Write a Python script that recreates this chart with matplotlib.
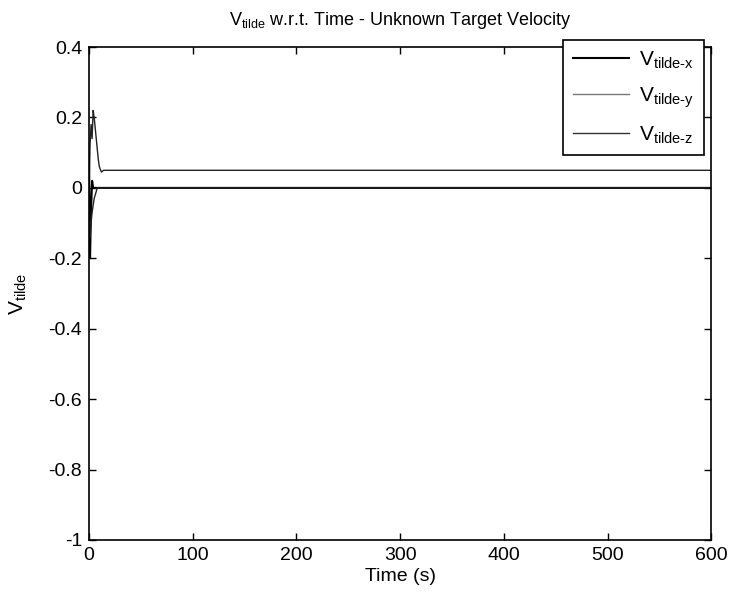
import matplotlib
matplotlib.use("Agg")
import matplotlib.pyplot as plt

plt.rcParams['font.family'] = ['Liberation Sans', 'DejaVu Sans']
plt.rcParams['mathtext.fontset'] = 'custom'
plt.rcParams['mathtext.rm'] = 'Liberation Sans'
plt.rcParams['mathtext.it'] = 'Liberation Sans'

# simulation time samples (s)
time = [0, 1, 2, 3, 4, 5, 6, 7, 8, 9, 10, 12, 14, 600]

# velocity estimation error components
v_tilde_x = [0.10, -0.20, -0.06, 0.02, 0.0, 0.0, 0.0, 0.0, 0.0, 0.0, 0.0, 0.0, 0.0, 0.0]
v_tilde_y = [0.0, 0.12, 0.18, 0.14, 0.22, 0.20, 0.17, 0.14, 0.11, 0.08, 0.06, 0.045, 0.05, 0.05]
v_tilde_z = [0.0, -0.14, -0.10, -0.07, -0.05, -0.03, -0.02, -0.01, 0.0, 0.0, 0.0, 0.0, 0.0, 0.0]

x_ticks = [0, 100, 200, 300, 400, 500, 600]
y_ticks = [-1, -0.8, -0.6, -0.4, -0.2, 0, 0.2, 0.4]
y_tick_labels = ['-1', '-0.8', '-0.6', '-0.4', '-0.2', '0', '0.2', '0.4']


def main():
    fig = plt.figure(figsize=(7.33, 5.96), dpi=100)
    ax = fig.add_axes([0.1214, 0.094, 0.849, 0.827])

    ax.plot(time, v_tilde_x, color='black', lw=1.5, label=r'V$_{\mathregular{tilde\text{-}x}}$')
    ax.plot(time, v_tilde_y, color='#222222', lw=1.0, label=r'V$_{\mathregular{tilde\text{-}y}}$')
    ax.plot(time, v_tilde_z, color='#222222', lw=1.0, label=r'V$_{\mathregular{tilde\text{-}z}}$')

    ax.set_xlim(0, 600)
    ax.set_ylim(-1, 0.4)
    ax.set_xticks(x_ticks)
    ax.set_yticks(y_ticks)
    ax.set_yticklabels(y_tick_labels)
    ax.tick_params(direction='in', top=True, right=True, labelsize=14, length=5, width=1, pad=5)
    for sp in ax.spines.values():
        sp.set_linewidth(1.2)

    ax.set_xlabel('Time (s)', fontsize=14, labelpad=3)
    ax.set_ylabel(r'V$_{\mathregular{tilde}}$', fontsize=15, labelpad=14)
    ax.set_title(r'V$_{\mathregular{tilde}}$ w.r.t. Time - Unknown Target Velocity', fontsize=13, pad=16)

    leg = fig.legend(loc='upper right', bbox_to_anchor=(0.960, 0.933), borderaxespad=0,
                     fontsize=15, handlelength=2.7, frameon=True, fancybox=False,
                     edgecolor='black', framealpha=1, labelspacing=0.7, borderpad=0.45,
                     handletextpad=0.5)
    leg.get_frame().set_linewidth(1.2)
    # legend swatches keep the original black / grey / dark-grey look
    for h, c in zip(leg.get_lines(), ['black', '#777777', '#333333']):
        h.set_color(c)

    fig.savefig('out.png', dpi=100)


if __name__ == "__main__":
    main()
